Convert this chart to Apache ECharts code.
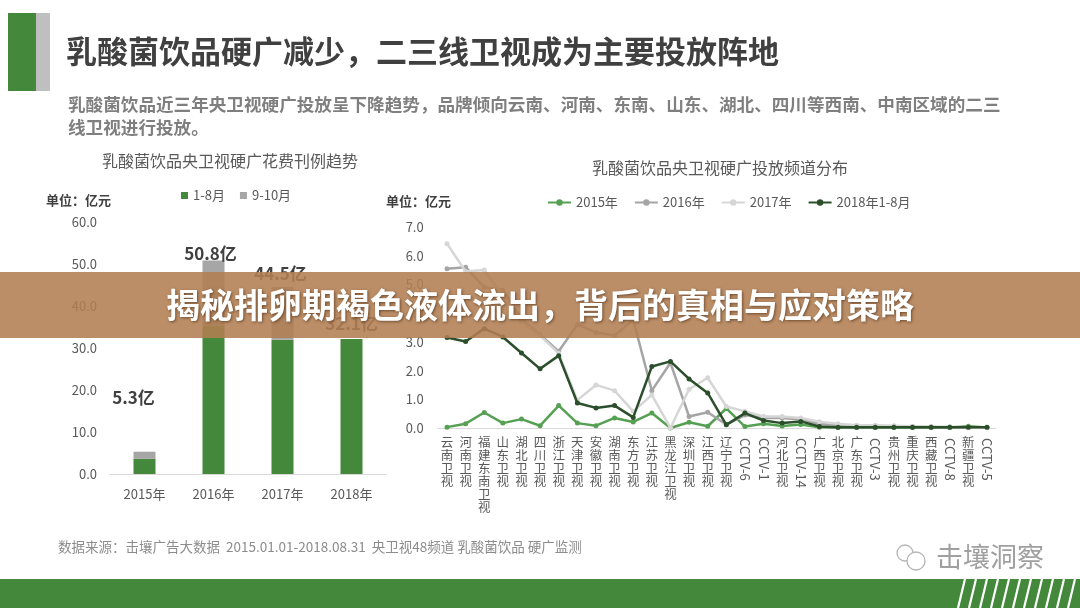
<!DOCTYPE html>
<html>
<head>
<meta charset="utf-8">
<script src="https://cdn.jsdelivr.net/npm/echarts@6/dist/echarts.min.js"></script>
<style>
html,body{margin:0;padding:0;background:#fff;}
#c{width:1080px;height:608px;}
</style>
</head>
<body>
<div id="c"></div>
<script>
// ---- data ----
var years = ['2015年', '2016年', '2017年', '2018年'];
var janAug = [3.6, 35.4, 31.9, 32.1];
var sepOct = [1.7, 15.4, 12.6, 0];
var totals = [5.3, 50.8, 44.5, 32.1];
var barTicks = [0, 10, 20, 30, 40, 50, 60];

var channels = ['云南卫视','河南卫视','福建东南卫视','山东卫视','湖北卫视','四川卫视','浙江卫视','天津卫视','安徽卫视','湖南卫视','东方卫视','江苏卫视','黑龙江卫视','深圳卫视','江西卫视','辽宁卫视','CCTV-6','CCTV-1','河北卫视','CCTV-14','广西卫视','北京卫视','广东卫视','CCTV-3','贵州卫视','重庆卫视','西藏卫视','CCTV-8','新疆卫视','CCTV-5'];
var s2015 = [0.03,0.15,0.54,0.17,0.31,0.08,0.78,0.17,0.08,0.35,0.21,0.52,0.0,0.2,0.06,0.68,0.05,0.15,0.07,0.12,0.03,0.02,0.02,0.02,0.02,0.02,0.02,0.02,0.06,0.02];
var s2016 = [5.55,5.6,4.9,4.8,3.8,3.25,2.67,3.6,3.33,3.22,3.77,1.3,2.27,0.4,0.55,0.12,0.45,0.35,0.35,0.3,0.15,0.1,0.08,0.07,0.06,0.05,0.03,0.03,0.02,0.02];
var s2017 = [6.42,5.45,5.5,4.6,3.7,3.22,2.6,0.97,1.5,1.3,0.58,1.15,0.0,1.35,1.75,0.75,0.58,0.4,0.4,0.35,0.22,0.15,0.1,0.1,0.08,0.06,0.05,0.04,0.03,0.02];
var s2018 = [3.15,3.01,3.46,3.17,2.61,2.06,2.52,0.87,0.70,0.78,0.37,2.14,2.32,1.71,1.22,0.11,0.52,0.26,0.17,0.23,0.05,0.03,0.03,0.03,0.03,0.03,0.03,0.03,0.03,0.03];
var lineNames = ['2015年', '2016年', '2017年', '2018年1-8月'];

// ---- styling ----
var FONT = '"Noto Sans CJK SC", "Noto Sans", sans-serif';
var GREEN = '#44883b';
var GRAY = '#a6a6a6';
var TXT = '#595959';
var lineColors = ['#55a052', '#a5a5a5', '#d6d6d6', '#2b4f2b'];
var labelOffsets = [[-11, -41], [-3, 6], [-2, 0], [0, -2]];

var chart = echarts.init(document.getElementById('c'), null, {renderer: 'canvas'});

function stackChars(v) { return v.indexOf('CCTV') === 0 ? '' : v.split('').join('\n'); }
function onlyCCTV(v) { return v.indexOf('CCTV') === 0 ? v : ''; }

var lineSeries = [s2015, s2016, s2017, s2018].map(function (d, i) {
  return {
    name: lineNames[i], type: 'line', xAxisIndex: 1, yAxisIndex: 1,
    data: d, symbol: 'circle', symbolSize: 5, showSymbol: true,
    itemStyle: {color: lineColors[i]},
    lineStyle: {color: lineColors[i], width: 2.5},
    z: 3 + i, animation: false
  };
});

var stripes = [];
for (var k = 0; k < 11; k++) {
  var x0 = 958 + k * 11;
  stripes.push({type: 'line', shape: {x1: x0, y1: 608, x2: x0 + 7, y2: 579},
    style: {stroke: '#ffffff', lineWidth: 2.2}, z: 20});
}

var option = {
  animation: false,
  textStyle: {fontFamily: FONT},
  grid: [
    {left: 110, right: 694, top: 221.7, bottom: 134},
    {left: 437.7, right: 83.7, top: 227, bottom: 180}
  ],
  legend: [
    {data: ['1-8月', '9-10月'], left: 176, top: 184, icon: 'rect', itemWidth: 7, itemHeight: 7,
     itemGap: 15, textStyle: {color: TXT, fontSize: 13, fontFamily: FONT}},
    {data: lineNames, left: 542, top: 191, itemWidth: 23, itemHeight: 8, itemGap: 16,
     textStyle: {color: TXT, fontSize: 13, fontFamily: FONT}}
  ],
  xAxis: [
    {type: 'category', gridIndex: 0, data: years,
     axisLine: {lineStyle: {color: '#d9d9d9', width: 1}}, axisTick: {show: false},
     axisLabel: {color: TXT, fontSize: 13, margin: 14, fontFamily: FONT}},
    {type: 'category', gridIndex: 1, data: channels, boundaryGap: true,
     axisLine: {lineStyle: {color: '#d9d9d9', width: 1}}, axisTick: {show: false},
     axisLabel: {interval: 0, color: TXT, fontSize: 12.5, lineHeight: 13, margin: 8,
       formatter: stackChars, verticalAlign: 'top', fontFamily: FONT}},
    {type: 'category', gridIndex: 1, data: channels, boundaryGap: true, position: 'bottom',
     axisLine: {show: false}, axisTick: {show: false},
     axisLabel: {interval: 0, rotate: -90, color: TXT, fontSize: 13, margin: 10,
       formatter: onlyCCTV, fontFamily: FONT}}
  ],
  yAxis: [
    {type: 'value', gridIndex: 0, min: 0, max: 60, interval: 10,
     splitLine: {show: false}, axisLine: {show: false}, axisTick: {show: false},
     axisLabel: {color: TXT, fontSize: 13, margin: 13, formatter: function (v) { return v.toFixed(1); }, fontFamily: FONT}},
    {type: 'value', gridIndex: 1, min: 0, max: 7, interval: 1,
     splitLine: {show: false}, axisLine: {show: false}, axisTick: {show: false},
     axisLabel: {color: TXT, fontSize: 13, margin: 14, formatter: function (v) { return v.toFixed(1); }, fontFamily: FONT}}
  ],
  series: [
    {name: '1-8月', type: 'bar', stack: 'a', xAxisIndex: 0, yAxisIndex: 0, data: janAug,
     barWidth: 22, itemStyle: {color: GREEN}},
    {name: '9-10月', type: 'bar', stack: 'a', xAxisIndex: 0, yAxisIndex: 0, data: sepOct,
     barWidth: 22, itemStyle: {color: GRAY}},
    {name: 'total', type: 'line', xAxisIndex: 0, yAxisIndex: 0,
     data: totals.map(function (v, i) {
       return {value: v, label: {offset: labelOffsets[i]}};
     }),
     symbol: 'circle', symbolSize: 1, showSymbol: true,
     itemStyle: {color: 'rgba(0,0,0,0)'},
     lineStyle: {width: 0, color: 'rgba(0,0,0,0)'}, z: 5,
     label: {show: true, position: 'top', distance: 4, color: '#404040', fontSize: 17, fontWeight: 'bold',
       fontFamily: FONT, formatter: function (p) { return Number(p.value).toFixed(1) + '亿'; }}}
  ].concat(lineSeries),
  graphic: [
    {type: 'rect', shape: {x: 8, y: 13, width: 28, height: 78}, style: {fill: GREEN}},
    {type: 'rect', shape: {x: 36, y: 13, width: 14, height: 78}, style: {fill: '#bfbfbf'}},
    {type: 'text', x: 66, y: 51, style: {text: '乳酸菌饮品硬广减少，二三线卫视成为主要投放阵地', fill: '#404040',
      font: 'bold 31px ' + FONT, textVerticalAlign: 'middle'}},
    {type: 'text', x: 68, y: 104, style: {text: '乳酸菌饮品近三年央卫视硬广投放呈下降趋势，品牌倾向云南、河南、东南、山东、湖北、四川等西南、中南区域的二三',
      fill: '#7f7f7f', font: 'bold 17.6px ' + FONT, textVerticalAlign: 'middle'}},
    {type: 'text', x: 68, y: 127, style: {text: '线卫视进行投放。', fill: '#7f7f7f',
      font: 'bold 17.6px ' + FONT, textVerticalAlign: 'middle'}},
    {type: 'text', x: 230, y: 161, style: {text: '乳酸菌饮品央卫视硬广花费刊例趋势', fill: TXT,
      font: '16px ' + FONT, textAlign: 'center', textVerticalAlign: 'middle'}},
    {type: 'text', x: 720, y: 168, style: {text: '乳酸菌饮品央卫视硬广投放频道分布', fill: TXT,
      font: '16px ' + FONT, textAlign: 'center', textVerticalAlign: 'middle'}},
    {type: 'text', x: 46, y: 200, style: {text: '单位：亿元', fill: '#404040',
      font: 'bold 13px ' + FONT, textVerticalAlign: 'middle'}},
    {type: 'text', x: 386, y: 201, style: {text: '单位：亿元', fill: '#404040',
      font: 'bold 13px ' + FONT, textVerticalAlign: 'middle'}},
    {type: 'text', x: 58, y: 547, style: {text: '数据来源：击壤广告大数据  2015.01.01-2018.08.31  央卫视48频道 乳酸菌饮品 硬广监测',
      fill: '#8c8c8c', font: '13.5px ' + FONT, textVerticalAlign: 'middle'}},
    {type: 'rect', shape: {x: 0, y: 579, width: 1080, height: 29}, style: {fill: GREEN}, z: 10},
    {type: 'circle', shape: {cx: 905, cy: 553, r: 8}, style: {fill: 'none', stroke: '#b5b5b5', lineWidth: 1.3}},
    {type: 'circle', shape: {cx: 916, cy: 561, r: 9}, style: {fill: '#fff', stroke: '#b5b5b5', lineWidth: 1.3}},
    {type: 'text', x: 936, y: 557, style: {text: '击壤洞察', fill: '#a0a0a0',
      font: '27px ' + FONT, textVerticalAlign: 'middle'}},
    {type: 'rect', shape: {x: 0, y: 272, width: 1080, height: 66}, style: {fill: 'rgba(178,126,82,0.88)'}, z: 50},
    {type: 'text', x: 540, y: 305, z: 51, style: {text: '揭秘排卵期褐色液体流出，背后的真相与应对策略', fill: '#ffffff',
      font: 'bold 34px ' + FONT, textAlign: 'center', textVerticalAlign: 'middle',
      textShadowColor: 'rgba(60,30,10,0.6)', textShadowBlur: 3, textShadowOffsetX: 1, textShadowOffsetY: 1}}
  ].concat(stripes)
};
chart.setOption(option);
</script>
</body>
</html>
